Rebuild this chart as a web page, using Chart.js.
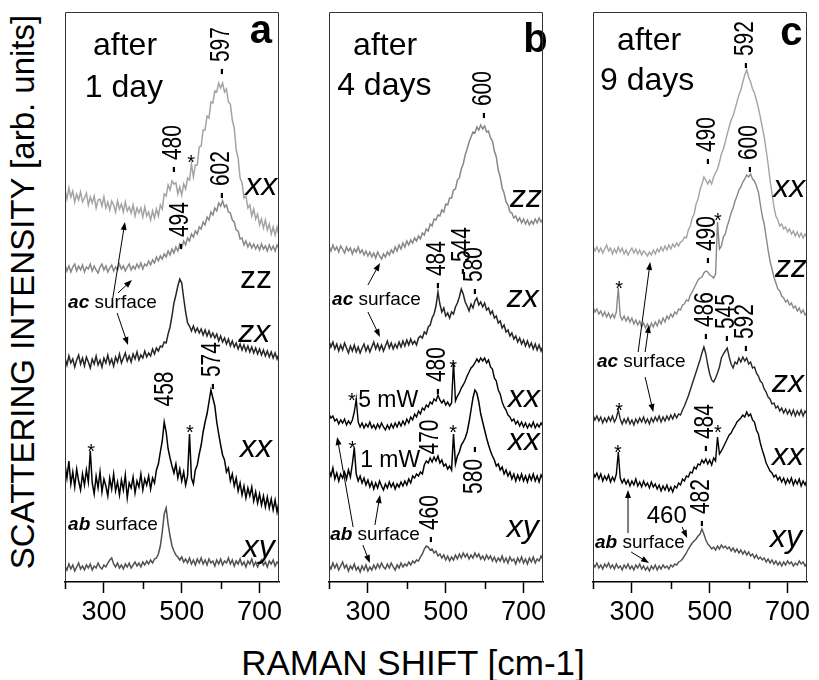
<!DOCTYPE html>
<html>
<head>
<meta charset="utf-8">
<script src="https://cdn.jsdelivr.net/npm/chart.js@4.4.1/dist/chart.umd.min.js"></script>
<style>
  body { margin:0; background:#fff; }
  #wrap { position:relative; width:819px; height:680px; font-family:"Liberation Sans", Arial, sans-serif; color:#000; overflow:hidden; }
  .pc { position:absolute; top:0; width:234px; height:627px; }
  #yt { position:absolute; left:22px; top:292px; transform:translate(-50%,-50%) rotate(-90deg); white-space:nowrap; font-size:33px; line-height:33px; }
  #xt { position:absolute; left:413px; top:645px; transform:translateX(-50%); white-space:nowrap; font-size:35px; line-height:35px; }
</style>
</head>
<body>
<div id="wrap">
  <canvas id="pa" class="pc" width="234" height="627" style="left:55px"></canvas>
  <canvas id="pb" class="pc" width="234" height="627" style="left:319px"></canvas>
  <canvas id="pcc" class="pc" width="234" height="627" style="left:583px"></canvas>
  <div id="yt">SCATTERING INTENSITY [arb. units]</div>
  <div id="xt">RAMAN SHIFT [cm-1]</div>
</div>
<script>
// Raman shift grid (cm-1)
const shifts = [200,205,210,215,220,225,230,235,240,245,250,255,260,265,270,275,280,285,290,295,
300,305,310,315,320,325,330,335,340,345,350,355,360,365,370,375,380,385,390,395,
400,405,410,415,420,425,430,435,440,445,450,455,460,465,470,475,480,485,490,495,
500,505,510,515,520,525,530,535,540,545,550,555,560,565,570,575,580,585,590,595,
600,605,610,615,620,625,630,635,640,645,650,655,660,665,670,675,680,685,690,695,
700,705,710,715,720,725,730,735,740,745,750];
const tickValues = [200,300,400,500,600,700];
const tickLabels = {300:'300',500:'500',700:'700'};

// Panel a: after 1 day (offset intensities, arb. units)
const a_xx_ac = [392,383,394,385,391,380,388,382,390,380,
384,389,377,385,379,386,374,382,383,376,
385,374,380,372,381,377,370,381,373,378,
370,380,371,375,369,377,366,374,369,374,
365,375,366,370,362,371,364,373,366,377,
373,388,386,397,392,401,398,399,388,395,
387,398,393,404,402,418,405,417,417,435,
436,452,452,466,464,480,479,491,490,499,
494,499,490,493,480,478,462,454,432,424,
404,399,384,386,374,377,366,373,363,368,
357,363,354,362,352,358,348,355,347,355,
346];
const a_zz_ac = [317,311,316,310,315,318,311,316,312,317,
310,315,313,318,311,316,312,309,315,318,
312,316,310,314,317,311,315,312,318,313,
316,311,315,318,312,316,313,318,314,319,
313,318,316,321,317,322,319,325,321,326,
323,328,325,331,327,333,329,335,331,338,
334,341,337,344,341,348,345,351,348,355,
353,360,357,365,362,370,367,374,371,379,
376,381,375,377,370,369,362,360,352,351,
343,344,337,341,335,339,334,338,333,337,
332,338,333,336,331,337,332,336,331,337,
333];
const a_zx_ac = [224,217,226,219,223,215,222,227,218,224,
216,225,220,214,223,218,226,217,222,215,
224,219,227,218,223,216,225,220,228,219,
224,229,221,226,220,228,223,230,222,227,
224,231,225,229,226,233,228,234,231,236,
235,240,239,248,255,266,279,287,296,303,
299,284,270,259,256,251,256,250,254,249,
253,247,252,246,251,245,249,244,248,241,
246,240,244,238,243,236,241,235,239,233,
238,232,237,231,236,230,235,229,234,228,
233,227,232,226,231,225,230,224,229,223,
228];
const a_xx_ab = [118,104,121,98,110,95,113,101,92,108,
97,112,100,131,99,88,106,94,110,90,
103,96,86,104,93,108,91,100,87,102,
92,107,84,99,94,105,89,101,95,108,
92,103,97,106,93,104,99,112,118,130,
141,160,150,133,124,116,109,118,104,113,
101,110,97,106,148,104,98,112,117,128,
137,150,160,168,180,192,184,176,160,148,
137,127,122,110,114,101,108,96,104,91,
99,87,96,84,94,86,95,81,90,79,
88,77,86,75,85,74,83,72,82,70,
80];
const a_xy_ab = [16,12,18,13,17,11,15,19,13,16,
12,17,14,18,12,16,14,19,15,13,
17,15,19,22,24,18,15,19,14,17,
13,18,15,19,14,17,20,16,19,15,
20,17,21,18,22,19,23,24,28,36,
50,68,74,58,46,36,31,27,25,22,
25,20,23,19,24,18,22,17,23,19,
24,18,22,17,23,19,21,16,22,18,
23,17,21,19,24,18,22,16,21,18,
23,17,20,15,21,18,23,16,20,15,
19,22,17,20,15,21,18,22,16,20,
18];

// Panel b: after 4 days
const b_zz_ac = [336,331,337,332,335,330,336,333,329,335,
331,334,328,333,330,335,329,332,327,331,
326,330,325,329,324,330,326,323,328,325,
330,327,332,329,335,331,337,333,339,335,
341,337,342,339,344,341,346,343,349,347,
353,351,358,356,363,362,367,366,372,370,
378,377,384,384,392,393,402,404,413,418,
427,433,440,445,450,449,455,452,457,453,
456,450,451,444,441,431,425,412,405,394,
389,380,377,370,369,364,366,361,364,359,
363,358,362,357,361,358,363,359,364,360,
363];
const b_zx_ac = [241,235,240,233,238,231,237,232,239,234,
229,236,231,237,230,235,229,234,238,231,
236,230,235,240,233,238,232,237,231,236,
241,234,239,233,238,234,240,235,241,236,
242,237,243,238,241,237,244,246,244,250,
248,255,257,264,268,276,290,278,270,274,
266,269,264,270,268,275,279,285,293,288,
280,276,271,278,274,281,284,277,280,275,
279,272,274,268,271,264,266,259,261,254,
257,250,252,246,249,243,246,240,244,238,
242,236,241,235,239,233,238,232,237,231,
236];
const b_xx_5mW = [168,164,166,161,163,158,162,159,163,157,
161,158,162,170,183,160,155,159,154,158,
155,160,154,157,153,158,154,159,155,152,
157,153,158,154,159,155,160,156,161,157,
163,159,165,162,168,165,171,168,174,172,
177,175,180,178,183,181,187,182,179,182,
177,180,176,179,220,181,186,189,194,197,
201,206,210,214,216,219,223,220,224,221,
224,219,222,215,213,204,201,192,188,180,
175,172,167,165,161,163,158,161,156,160,
155,159,154,158,155,160,154,158,155,159,
156];
const b_xx_1mW = [112,106,114,103,109,101,108,104,110,103,
112,105,118,134,108,101,106,99,104,97,
102,95,100,93,99,94,101,96,92,98,
94,100,95,99,93,98,95,100,96,101,
97,103,99,106,104,108,106,110,108,117,
121,119,124,120,125,121,126,119,122,116,
118,113,116,112,148,118,126,130,137,140,
144,150,160,172,184,192,189,180,168,160,
152,144,137,131,126,122,116,118,112,115,
108,112,106,110,103,108,101,107,102,108,
101,106,100,107,102,108,101,106,100,107,
103];
const b_xy_ab = [17,13,19,14,18,12,16,20,14,17,
11,16,13,18,12,15,10,16,12,17,
11,15,12,17,13,18,14,19,15,13,
18,14,19,15,12,17,14,19,15,18,
16,20,17,21,19,22,21,25,28,33,
36,35,32,33,29,31,26,28,24,27,
22,26,21,25,22,27,23,28,24,29,
25,28,23,27,24,29,25,28,23,26,
22,27,23,26,21,25,20,24,21,26,
20,24,19,25,21,23,18,24,20,25,
19,23,18,24,20,25,19,23,21,26,
22];

// Panel c: after 9 days
const c_xx_ac = [336,331,335,330,334,329,333,337,331,334,
328,333,329,335,330,334,328,332,327,331,
334,329,333,328,332,327,331,329,326,330,
327,332,328,333,330,335,331,336,332,337,
333,338,335,339,336,340,341,345,344,352,
356,364,368,378,383,392,398,405,402,398,
402,398,405,409,413,420,428,433,440,448,
455,462,466,473,480,487,492,500,507,512,
505,500,493,489,482,474,465,455,445,432,
418,402,389,375,366,362,356,358,353,355,
350,353,348,351,346,350,345,349,344,348,
344];
const c_zz_ac = [275,270,273,268,271,266,270,265,269,264,
268,264,270,294,266,262,266,261,265,260,
264,258,262,257,261,255,259,254,258,253,
259,255,260,256,262,258,264,260,266,263,
268,265,270,268,273,272,277,278,282,281,
287,290,294,298,302,304,305,309,311,310,
307,306,304,308,360,333,336,345,348,356,
362,369,374,381,386,392,395,400,403,407,
405,408,403,401,396,390,378,366,358,345,
332,321,313,305,299,293,291,286,284,280,
282,277,279,274,276,271,274,269,272,267,
270];
const c_zx_ac = [167,162,166,161,165,159,164,160,165,161,
166,160,164,172,163,158,163,159,164,158,
162,157,163,159,164,160,165,159,163,158,
164,160,165,161,166,160,165,161,166,162,
167,163,168,164,168,167,172,176,181,186,
192,198,204,210,216,222,229,235,228,217,
208,202,200,204,209,215,224,228,231,234,
225,218,214,220,218,224,220,225,221,224,
218,220,214,215,209,206,201,199,193,190,
185,183,178,179,174,176,171,174,169,173,
168,172,167,172,166,171,167,172,166,171,
168];
const c_xx_ab = [110,105,109,103,108,101,106,102,107,100,
105,101,108,130,104,99,103,98,102,96,
101,97,103,96,100,95,101,96,99,94,
100,95,98,93,97,91,96,92,97,91,
95,90,96,94,99,97,103,101,106,105,
110,109,115,113,118,117,122,119,123,118,
122,117,124,121,145,128,131,135,139,143,
147,149,153,156,160,162,164,167,165,170,
166,168,162,160,152,148,139,132,126,119,
115,111,109,105,107,102,105,100,104,98,
103,99,104,97,102,98,103,96,101,97,
102];
const c_xy_ab = [18,15,19,14,17,13,18,15,19,14,
17,13,18,14,16,12,17,14,18,13,
16,12,17,14,18,13,16,12,15,11,
16,13,17,12,16,13,17,14,16,13,
17,15,18,17,20,21,23,26,29,33,
36,39,41,43,46,48,53,48,42,38,
36,33,35,32,36,33,37,34,36,33,
35,31,34,30,33,29,32,28,31,27,
30,26,28,24,27,23,25,22,24,20,
23,19,22,18,21,17,20,16,20,17,
21,18,20,16,19,17,21,18,20,16,
19];

const FONT = '"Liberation Sans", Arial, sans-serif';
const LIGHT = '#a4a4a4', MID = '#888888', DARK = '#262626', BLACK = '#000000', XY = '#515151';

// Annotations (positions in data coordinates: cm-1, arb. units)
const notesA = [
  {k:'big', t:'after', x:272, y:527}, {k:'big', t:'1 day', x:251, y:485},
  {k:'letter', t:'a', x:675, y:539},
  {k:'rot', t:'- 597', x:603, y:531}, {k:'rot', t:'- 480', x:478, y:433},
  {k:'star', x:524, y:425}, {k:'rot', t:'- 602', x:603, y:407},
  {k:'mode', t:'xx', x:663, y:387}, {k:'rot', t:'- 494', x:496, y:356},
  {k:'modeU', t:'zz', x:650, y:294}, {k:'surf', t:'ac', x:208, y:274},
  {k:'mode', t:'zx', x:645, y:240}, {k:'rot', t:'458', x:457, y:193},
  {k:'rot', t:'- 574', x:578, y:216}, {k:'star', x:267, y:136}, {k:'star', x:521, y:155},
  {k:'mode', t:'xx', x:650, y:125}, {k:'surf', t:'ab', x:208, y:52},
  {k:'mode', t:'xy', x:657, y:25},
  {k:'arrow', x:323, y:284, x2:354, y2:360}, {k:'arrow', x:336, y:289, x2:372, y2:302},
  {k:'arrow', x:334, y:269, x2:362, y2:237}
];
const notesB = [
  {k:'big', t:'after', x:262, y:527}, {k:'big', t:'4 days', x:221, y:487},
  {k:'letter', t:'b', x:699, y:530},
  {k:'rot', t:'- 600', x:596, y:487}, {k:'mode', t:'zz', x:665, y:375},
  {k:'rot', t:'- 484', x:478, y:317}, {k:'rot', t:'- 544', x:544, y:331},
  {k:'rot', t:'- 580', x:575, y:311}, {k:'mode', t:'zx', x:657, y:275},
  {k:'surf', t:'ac', x:208, y:277},
  {k:'arrow', x:300, y:297, x2:331, y2:319}, {k:'arrow', x:300, y:270, x2:331, y2:245},
  {k:'rot', t:'- 480', x:478, y:211}, {k:'star', x:519, y:220},
  {k:'star', x:259, y:187}, {k:'power', t:'5 mW', x:275, y:175},
  {k:'mode', t:'xx', x:660, y:175}, {k:'rot', t:'470', x:460, y:145},
  {k:'star', x:519, y:155}, {k:'star', x:260, y:139}, {k:'power', t:'1 mW', x:280, y:115},
  {k:'mode', t:'xx', x:660, y:132}, {k:'rot', t:'580 -', x:575, y:112},
  {k:'rot', t:'- 460', x:460, y:63}, {k:'surf', t:'ab', x:203, y:42},
  {k:'mode', t:'xy', x:657, y:45},
  {k:'arrow', x:262, y:55, x2:221, y2:145}, {k:'arrow', x:318, y:57, x2:331, y2:87},
  {k:'arrow', x:287, y:37, x2:305, y2:19}
];
const notesC = [
  {k:'big', t:'after', x:262, y:532}, {k:'big', t:'9 days', x:218, y:492},
  {k:'letter', t:'c', x:681, y:537},
  {k:'rot', t:'- 592', x:591, y:537}, {k:'rot', t:'- 490', x:493, y:441},
  {k:'rot', t:'- 600', x:601, y:433}, {k:'mode', t:'xx', x:663, y:385},
  {k:'rot', t:'- 490', x:493, y:342}, {k:'star', x:521, y:367},
  {k:'mode', t:'zz', x:668, y:305}, {k:'star', x:267, y:299},
  {k:'surf', t:'ac', x:210, y:215},
  {k:'arrow', x:316, y:230, x2:347, y2:320}, {k:'arrow', x:334, y:230, x2:344, y2:257},
  {k:'arrow', x:334, y:205, x2:355, y2:170},
  {k:'rot', t:'- 486', x:488, y:266}, {k:'rot', t:'- 545', x:542, y:264},
  {k:'rot', t:'- 592', x:591, y:254}, {k:'mode', t:'zx', x:660, y:190},
  {k:'star', x:267, y:177}, {k:'rot', t:'- 484', x:488, y:154}, {k:'star', x:521, y:155},
  {k:'mode', t:'xx', x:660, y:117}, {k:'star', x:264, y:135},
  {k:'rot', t:'- 482', x:480, y:79}, {k:'num', t:'460', x:338, y:59},
  {k:'arrow', x:429, y:55, x2:442, y2:44},
  {k:'surf', t:'ab', x:205, y:34}, {k:'mode', t:'xy', x:655, y:35},
  {k:'arrow', x:290, y:49, x2:290, y2:92}, {k:'arrow', x:298, y:30, x2:344, y2:19}
];

const framePlugin = {
  id: 'frame',
  afterDraw(chart) {
    const {ctx, chartArea: a, scales: {x}} = chart;
    ctx.save();
    ctx.strokeStyle = '#333'; ctx.lineWidth = 1;
    ctx.beginPath();
    ctx.moveTo(a.left + 0.5, a.bottom); ctx.lineTo(a.left + 0.5, a.top + 0.5);
    ctx.lineTo(a.right - 0.5, a.top + 0.5); ctx.lineTo(a.right - 0.5, a.bottom);
    ctx.stroke();
    ctx.strokeStyle = '#000'; ctx.lineWidth = 1.5;
    for (const v of tickValues) {
      if (tickLabels[v]) continue;
      const px = Math.round(x.getPixelForValue(v)) + 0.5;
      ctx.beginPath(); ctx.moveTo(px, a.bottom); ctx.lineTo(px, a.bottom + 7); ctx.stroke();
    }
    ctx.restore();
  }
};

function arrow(ctx, x1, y1, x2, y2) {
  const ang = Math.atan2(y2 - y1, x2 - x1), L = 8, W = 3;
  ctx.beginPath(); ctx.moveTo(x1, y1); ctx.lineTo(x2 - Math.cos(ang) * 5, y2 - Math.sin(ang) * 5); ctx.stroke();
  ctx.beginPath();
  ctx.moveTo(x2, y2);
  ctx.lineTo(x2 - L * Math.cos(ang) + W * Math.sin(ang), y2 - L * Math.sin(ang) - W * Math.cos(ang));
  ctx.lineTo(x2 - L * Math.cos(ang) - W * Math.sin(ang), y2 - L * Math.sin(ang) + W * Math.cos(ang));
  ctx.closePath(); ctx.fill();
}

const notesPlugin = {
  id: 'notes',
  afterDatasetsDraw(chart, args, opts) {
    const {ctx, scales: {x, y}} = chart;
    ctx.save();
    ctx.fillStyle = '#000'; ctx.strokeStyle = '#000'; ctx.lineWidth = 1;
    for (const n of opts.items) {
      const px = x.getPixelForValue(n.x), py = y.getPixelForValue(n.y);
      if (n.k === 'arrow') {
        arrow(ctx, px, py, x.getPixelForValue(n.x2), y.getPixelForValue(n.y2));
      } else if (n.k === 'rot') {
        ctx.save(); ctx.translate(px, py); ctx.scale(1.3, 1); ctx.rotate(-Math.PI / 2);
        ctx.font = '21px ' + FONT; ctx.textAlign = 'center'; ctx.textBaseline = 'middle';
        ctx.fillText(n.t, 0, 0); ctx.restore();
      } else if (n.k === 'star') {
        ctx.font = '20px ' + FONT; ctx.textAlign = 'center'; ctx.textBaseline = 'alphabetic';
        ctx.fillText('*', px, py + 12);
      } else if (n.k === 'surf') {
        ctx.textAlign = 'left'; ctx.textBaseline = 'alphabetic';
        ctx.font = 'italic bold 19px ' + FONT; ctx.fillText(n.t, px, py);
        const w = ctx.measureText(n.t).width;
        ctx.font = '19px ' + FONT; ctx.fillText(' surface', px + w, py);
      } else {
        const fonts = {big: '32px ', letter: 'bold 40px ', mode: 'italic 32px ', modeU: '32px ', power: '23px ', num: '24px '};
        ctx.font = fonts[n.k] + FONT; ctx.textAlign = 'left'; ctx.textBaseline = 'alphabetic';
        ctx.fillText(n.t, px, py);
      }
    }
    ctx.restore();
  }
};

function ds(values, color, width) {
  return { data: shifts.map((s, i) => ({x: s, y: values[i]})), borderColor: color, borderWidth: width,
           pointRadius: 0, tension: 0, fill: false };
}

function panel(id, series, notes) {
  return new Chart(document.getElementById(id), {
    type: 'line',
    data: { datasets: series.map(s => ds(s[0], s[1], s[2])) },
    options: {
      responsive: false, animation: false, events: [],
      layout: { padding: { top: 12, left: 10, right: 10, bottom: 0 } },
      plugins: { legend: { display: false }, tooltip: { enabled: false }, notes: { items: notes } },
      scales: {
        x: {
          type: 'linear', min: 200, max: 750,
          afterBuildTicks: s => { s.ticks = tickValues.map(v => ({value: v})); },
          afterFit: s => { s.height = 45; },
          ticks: { callback: v => tickLabels[v] || '', autoSkip: false, maxRotation: 0, padding: 3,
                   color: '#000', font: { family: 'Liberation Sans', size: 27 } },
          grid: { drawOnChartArea: false, drawTicks: true, tickLength: 11, tickWidth: 1.5,
                  tickColor: c => (c.tick && tickLabels[c.tick.value]) ? '#000' : 'rgba(0,0,0,0)' },
          border: { display: true, color: '#000', width: 1.5 }
        },
        y: { display: false, min: 0, max: 570 }
      }
    },
    plugins: [framePlugin, notesPlugin]
  });
}

panel('pa', [[a_xx_ac, LIGHT, 1.5], [a_zz_ac, MID, 1.5], [a_zx_ac, DARK, 1.5], [a_xx_ab, BLACK, 1.5], [a_xy_ab, XY, 1.5]], notesA);
panel('pb', [[b_zz_ac, MID, 1.5], [b_zx_ac, DARK, 1.5], [b_xx_5mW, BLACK, 1.4], [b_xx_1mW, BLACK, 1.5], [b_xy_ab, XY, 1.5]], notesB);
panel('pcc', [[c_xx_ac, LIGHT, 1.4], [c_zz_ac, MID, 1.4], [c_zx_ac, DARK, 1.4], [c_xx_ab, BLACK, 1.4], [c_xy_ab, XY, 1.4]], notesC);
</script>
</body>
</html>
